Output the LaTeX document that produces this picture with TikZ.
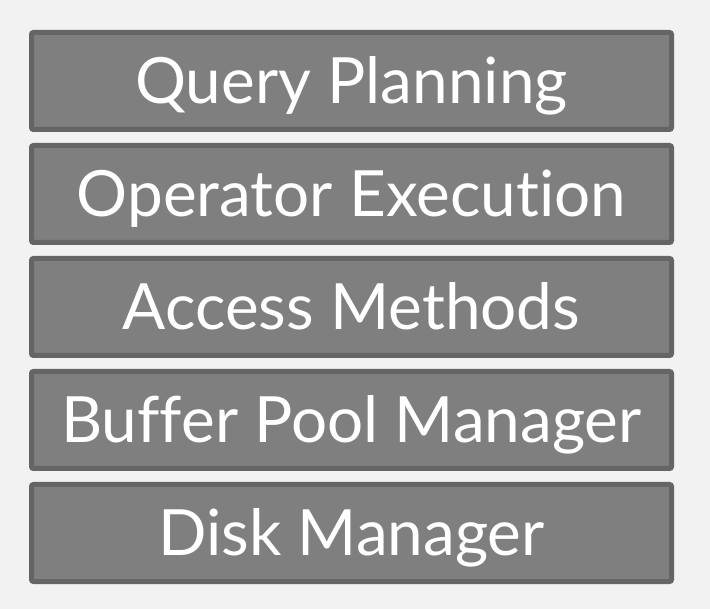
\documentclass[tikz,border=0pt]{standalone}
\usepackage{fontspec}
\setmainfont{Lato}[Ligatures=NoCommon]
\definecolor{bgc}{HTML}{F2F2F2}
\definecolor{boxfill}{HTML}{7F7F7F}
\definecolor{boxline}{HTML}{656565}
\begin{document}
\begin{tikzpicture}[x=1pt,y=1pt,
  layerbox/.style={draw=boxline, fill=boxfill, line width=5pt, rounded corners=2pt,
    minimum width=640pt, minimum height=97pt, inner sep=0pt,
    text=white, font=\fontsize{63.8}{63.8}\selectfont, text height=45.9pt, text depth=0pt}]
\fill[bgc] (0,0) rectangle (710,-609);
\useasboundingbox (0,0) rectangle (710,-609);
\node[layerbox] (qp) at (351.5,-81) {Query Planning};
\node[layerbox] (oe) at (351.5,-194) {Operator Execution};
\node[layerbox] (am) at (351.5,-307) {Access Methods};
\node[layerbox] (bp) at (351.5,-420) {Buffer Pool Manager};
\node[layerbox] (dm) at (351.5,-533) {Disk Manager};
\end{tikzpicture}
\end{document}
